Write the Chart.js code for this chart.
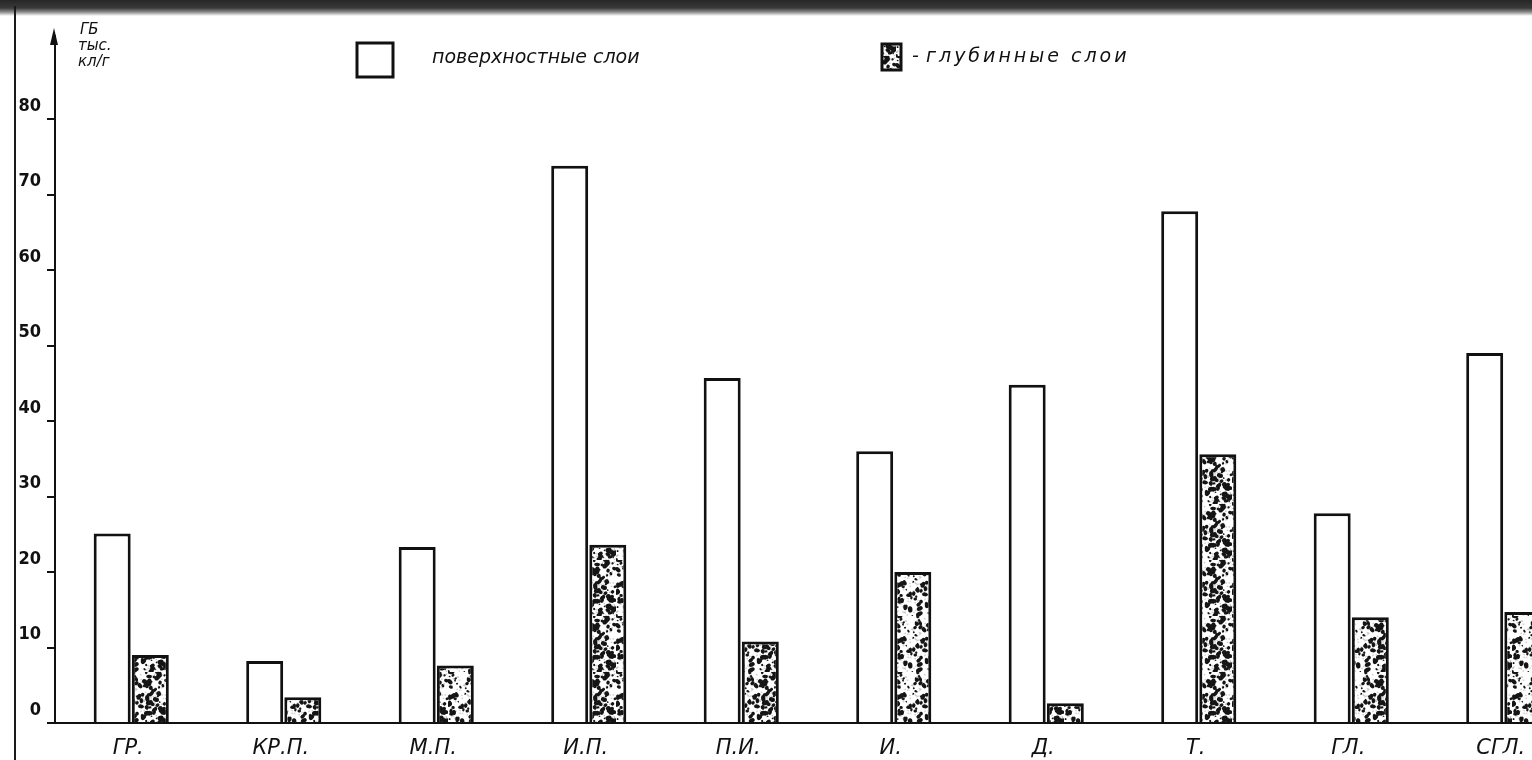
<!DOCTYPE html>
<html>
<head>
<meta charset="utf-8">
<script src="https://cdn.jsdelivr.net/npm/chart.js@4.4.1/dist/chart.umd.min.js"></script>
<style>
  html, body { margin: 0; padding: 0; background: #fff; overflow: hidden; }
  #wrap { position: relative; width: 1532px; height: 760px; overflow: hidden; }
  #topband { position: absolute; left: 0; top: 0; width: 1532px; height: 16px;
    background: linear-gradient(#262626, #3a3a3a 50%, #8a8a8a 75%, #fff); z-index: 2; }
  #edge { position: absolute; left: 14px; top: 6px; width: 2px; height: 754px; background: #1a1a1a; z-index: 2; }
</style>
</head>
<body>
<div id="wrap">
  <div id="topband"></div>
  <div id="edge"></div>
  <canvas id="mycanvas" width="1580" height="760"></canvas>
</div>
<script>
var categories = ['ГР.', 'КР.П.', 'М.П.', 'И.П.', 'П.И.', 'И.', 'Д.', 'Т.', 'ГЛ.', 'СГЛ.'];
var surface = [25.1, 8.2, 23.3, 73.8, 45.7, 36.0, 44.8, 67.8, 27.8, 49.0];
var deep = [9.0, 3.4, 7.6, 23.6, 10.8, 20.0, 2.6, 35.6, 14.0, 14.7];
var yTicks = [0, 10, 20, 30, 40, 50, 60, 70, 80];
var seriesNames = ['поверхностные слои', 'глубинные слои'];

var condensed = "'DejaVu Sans Condensed', 'DejaVu Sans', sans-serif";
var wide = "'DejaVu Sans', sans-serif";

// speckled fill for the deep-layer bars (fixed seed so every run looks the same)
function makeSpeckle() {
	var c = document.createElement('canvas');
	c.width = 56; c.height = 56;
	var g = c.getContext('2d');
	g.fillStyle = '#fff';
	g.fillRect(0, 0, 56, 56);
	var seed = 7;
	function rnd() { seed = (seed * 16807) % 2147483647; return seed / 2147483647; }
	g.fillStyle = 'rgba(150,150,150,0.45)';
	for (var j = 0; j < 160; j++) {
		g.fillRect(rnd() * 56, rnd() * 56, 1.5, 1.5);
	}
	g.fillStyle = '#151515';
	for (var i = 0; i < 140; i++) {
		var x = rnd() * 56, y = rnd() * 56;
		var r = 0.8 + rnd() * 1.7;
		g.beginPath();
		g.ellipse(x, y, r * (0.7 + rnd()), r, rnd() * 3, 0, Math.PI * 2);
		g.fill();
	}
	return g.createPattern(c, 'repeat');
}

var speckle = makeSpeckle();

// legend, axis unit and arrowhead drawn over the chart
var decor = {
	id: 'decor',
	afterDraw: function(chart) {
		var ctx = chart.ctx;
		var area = chart.chartArea;
		ctx.save();
		// arrowhead on the value axis
		ctx.fillStyle = '#111';
		ctx.beginPath();
		ctx.moveTo(area.left - 1, area.top - 8);
		ctx.lineTo(area.left - 5, area.top + 9);
		ctx.lineTo(area.left + 3, area.top + 9);
		ctx.closePath();
		ctx.fill();

		// unit
		ctx.font = "italic 15px " + wide;
		ctx.textBaseline = 'alphabetic';
		ctx.textAlign = 'left';
		ctx.fillText('ГБ', 80, 34);
		ctx.fillText('тыс.', 78, 50);
		ctx.fillText('кл/г', 78, 66);

		// legend
		ctx.lineWidth = 3;
		ctx.strokeStyle = '#111';
		ctx.fillStyle = '#fff';
		ctx.fillRect(357, 43, 36, 34);
		ctx.strokeRect(357, 43, 36, 34);
		ctx.fillStyle = speckle;
		ctx.fillRect(882, 44, 19, 26);
		ctx.strokeRect(882, 44, 19, 26);
		ctx.fillStyle = '#111';
		ctx.font = "italic 19px " + wide;
		ctx.textBaseline = 'middle';
		ctx.fillText(seriesNames[0], 432, 58);
		ctx.fillText('-', 912, 57);
		ctx.letterSpacing = '3px';
		ctx.fillText(seriesNames[1], 926, 57);
		ctx.restore();
	}
};

var chartdata = {
	labels: categories,
	datasets: [
		{
			label: seriesNames[0],
			data: surface,
			backgroundColor: '#fff',
			borderColor: '#111',
			borderWidth: 3
		},
		{
			label: seriesNames[1],
			data: deep,
			backgroundColor: speckle,
			borderColor: '#111',
			borderWidth: 3
		}
	]
};

var options = {
	responsive: false,
	animation: false,
	devicePixelRatio: 1,
	layout: { padding: { top: 36, left: 0, right: 0, bottom: 0 } },
	datasets: {
		bar: { categoryPercentage: 0.5, barPercentage: 0.97 }
	},
	plugins: {
		legend: { display: false },
		title: { display: false },
		tooltip: { enabled: false }
	},
	scales: {
		x: {
			offset: true,
			grid: { display: false },
			border: { display: true, color: '#111', width: 2 },
			ticks: {
				color: '#111',
				font: { family: wide, size: 21, style: 'italic' },
				padding: 5,
				labelOffset: -3,
				maxRotation: 0
			},
			afterFit: function(scale) { scale.height = 37; }
		},
		y: {
			min: 0,
			max: 91,
			grid: {
				drawOnChartArea: false,
				drawTicks: true,
				tickLength: 8,
				lineWidth: 2,
				tickColor: function(c) {
					return c.tick && yTicks.indexOf(c.tick.value) >= 0 ? '#111' : 'rgba(0,0,0,0)';
				}
			},
			border: { display: true, color: '#111', width: 2 },
			ticks: {
				stepSize: 10,
				color: '#111',
				font: { family: condensed, size: 18, weight: 'bold' },
				padding: 6,
				labelOffset: -13,
				callback: function(v) { return yTicks.indexOf(v) >= 0 ? v : ''; }
			},
			afterFit: function(scale) { scale.width = 55; }
		}
	}
};

var ctx = document.getElementById('mycanvas');
var barGraph = new Chart(ctx, {
	type: 'bar',
	data: chartdata,
	options: options,
	plugins: [decor]
});
</script>
</body>
</html>
